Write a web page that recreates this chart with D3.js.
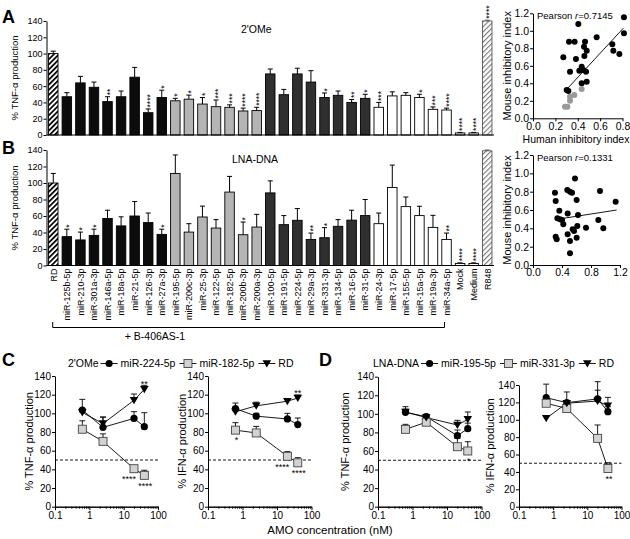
<!DOCTYPE html>
<html><head><meta charset="utf-8">
<script src="https://cdn.jsdelivr.net/npm/d3@7"></script>
<style>body{margin:0;background:#fff}</style>
</head><body>
<svg id="c" width="630" height="539" xmlns="http://www.w3.org/2000/svg"></svg>
<script>
// ---------------- DATA ----------------
const categories = ["RD","miR-125b-5p","miR-210-3p","miR-301a-3p","miR-146a-5p","miR-18a-5p","miR-21-5p","miR-126-3p","miR-27a-3p",
  "miR-195-5p","miR-200c-3p","miR-25-3p","miR-122-5p","miR-182-5p","miR-200b-3p","miR-200a-3p",
  "miR-100-5p","miR-191-5p","miR-224-5p","miR-29a-3p","miR-331-3p","miR-134-5p","miR-16-5p","miR-31-5p",
  "miR-24-3p","miR-17-5p","miR-155-5p","miR-15a-5p","miR-19a-3p","miR-34a-5p","Mock","Medium","R848"];
const groups = ["rd","g1","g1","g1","g1","g1","g1","g1","g1","g2","g2","g2","g2","g2","g2","g2",
  "g3","g3","g3","g3","g3","g3","g3","g3","g4","g4","g4","g4","g4","g4","ctrl","ctrl","r848"];
const barTicks = [0,20,40,60,80,100,120,140];

const omeValues = [100,47,64,58.6,41,47,71,27.4,46, 42,44,38,34.8,34,29.5,30, 75,49.5,75,65,46,48.7,40,45, 34,48,48.7,46,31.5,30.7, 2.5,2.5,140];
const omeErrTop = [103,52,72,65,47,54,83,32,55, 45,49,46,43,37,33,34, 81,56,82,79,51.6,54,43.6,50, 40,53,52,50,34.5,33, 3.2,3.2,141];
const omeSig = ["","","","","**","","","****","*", "*","*","*","***","***","****","****", "","","","","*","","**","*", "***","","","*","***","****", "****","****","****"];

const lnaValues = [100,35,31,36.5,57,48,60,52,37.7, 111.6,40.5,58.8,45.4,89,37.3,46.6, 88,49.5,54.8,31.6,33.7,47.5,55,60.5, 50.7,94.5,71.4,60.5,46.2,31.6, 2.5,2.5,139];
const lnaErrTop = [111.6,44,40.5,44,67,59,77.5,63.6,44, 134,50.7,72,55.6,108,52.7,62, 102.6,60.5,69,39.3,45.9,55.6,67,80, 63.6,121.7,83,71.8,60.8,39.3, 3.2,3.2,140];
const lnaSig = ["","*","*","*","","","","","*", "","","","","","*","", "","","","**","*","","","", "","","","","","**", "****","****",""];

// scatter (human index, mouse index)
const scatterA_black = [[0.813,1.154],[0.813,0.971],[0.405,1.078],[0.569,0.926],[0.322,0.875],[0.372,0.875],[0.465,0.875],
  [0.456,0.818],[0.48,0.773],[0.709,0.846],[0.718,0.773],[0.772,0.735],[0.271,0.697],[0.384,0.678],[0.459,0.712],
  [0.435,0.59],[0.414,0.544],[0.45,0.552],[0.474,0.533],[0.331,0.533],[0.435,0.40],[0.48,0.419],[0.301,0.323],[0.316,0.312]];
const scatterA_gray = [[0.286,0.133],[0.307,0.133],[0.331,0.201],[0.331,0.247],[0.369,0.266],[0.435,0.335]];
const scatterA_fit = [[0.295,0.322],[0.807,1.029]];
const scatterA_r = "0.7145";
const scatterB = [[0.303,0.789],[0.313,0.698],[0.473,0.818],[0.51,0.80],[0.538,0.789],[0.579,0.945],[0.602,0.709],
  [0.924,0.807],[1.14,0.69],[0.363,0.592],[0.478,0.563],[0.621,0.545],[0.336,0.509],[0.372,0.498],[0.40,0.491],
  [0.418,0.444],[0.611,0.425],[0.731,0.407],[0.97,0.40],[0.901,0.491],[0.547,0.389],[0.566,0.371],[0.313,0.309],
  [0.327,0.28],[0.478,0.335],[0.602,0.298],[0.51,0.262],[0.51,0.128]];
const scatterB_fit = [[0.327,0.498],[1.154,0.60]];
const scatterB_r = "0.1331";
const scatterTicksY = [0,0.2,0.4,0.6,0.8,1.0,1.2];
const scatterTicksXA = [0,0.2,0.4,0.6,0.8];
const scatterTicksXB = [0,0.4,0.8,1.2];

// dose response
const conc = [0.625, 2.5, 20, 40];
const doseTicks = [0,20,40,60,80,100,120,140];
const cTNF_224 = [103.6,85,94.6,85.7], cTNF_224e = [115,96,101.8,100.7];
const cTNF_182 = [83,70,40.7,33.6],   cTNF_182e = [92,78,44,39];
const cTNF_RD  = [101,89,114,125.7],  cTNF_RDe  = [104,96,120.7,130];
const cIFN_224 = [105,97,94,88],      cIFN_224e = [111,100,100,95];
const cIFN_182 = [82,79,54,47],       cIFN_182e = [90,86,59,52.5];
const cIFN_RD  = [101.7,108,113,116.4], cIFN_RDe = [104,112,115,119.6];
const dTNF_195 = [101.6,97,76.5,84],  dTNF_195e = [107.7,99,82.6,90];
const dTNF_331 = [83.3,91,64.6,60],   dTNF_331e = [88.7,97,73.6,70];
const dTNF_RD  = [102,96,88,94],      dTNF_RDe  = [105,99.4,93,102];
const dIFN_195 = [125.4,119.7,124,109.3], dIFN_195e = [141,132,143.8,115];
const dIFN_331 = [119,113,78.6,44],   dIFN_331e = [122,116,94,50.6];
const dIFN_RD  = [101.7,119,121.6,116], dIFN_RDe = [104,122,134,125.8];
// significance: [series index (0 circle,1 square,2 triangle), conc index, label, placement]
const sigC_TNF = [[2,3,"**","above"],[1,2,"****","belowLeft"],[1,3,"****","below"]];
const sigC_IFN = [[1,0,"*","below"],[2,3,"**","above"],[1,2,"****","belowLeft"],[1,3,"****","below"]];
const sigD_TNF = [[1,3,"*","below"]];
const sigD_IFN = [[1,3,"**","below"]];

// ---------------- DRAW ----------------
const FONT = "'Liberation Sans', Arial, Helvetica, sans-serif";
const svg = d3.select("#c");
const defs = svg.append("defs");
function hatch(id, color, w, sw) {
  const p = defs.append("pattern").attr("id", id).attr("patternUnits","userSpaceOnUse")
    .attr("width", w).attr("height", w).attr("patternTransform","rotate(45)");
  p.append("rect").attr("width", w).attr("height", w).attr("fill","#fff");
  p.append("rect").attr("width", sw).attr("height", w).attr("fill", color);
}
hatch("hRD", "#000", 3.6, 1.7);
hatch("hR848", "#777", 3.6, 1.1);

function styleAxis(g, fs) {
  g.attr("font-family", FONT).attr("font-size", fs);
  g.selectAll("path,line").attr("stroke","#000").attr("stroke-width",1);
  g.selectAll("text").attr("fill","#000");
}
function txt(x, y, s, fs, opts = {}) {
  const t = svg.append("text").attr("x", x).attr("y", y).attr("font-family", FONT)
    .attr("font-size", fs).attr("fill","#000").text(s);
  if (opts.anchor) t.attr("text-anchor", opts.anchor);
  if (opts.weight) t.attr("font-weight", opts.weight);
  if (opts.rot) t.attr("transform", `rotate(${opts.rot},${x},${y})`);
  return t;
}

const fillFor = {rd:"url(#hRD)", g1:"#0c0c0c", g2:"#b4b4b4", g3:"#2f2f2f", g4:"#fff", ctrl:"#fff", r848:"url(#hR848)"};
const xBand = d3.scaleBand().domain(categories).range([46.5, 494]).paddingInner(0.3).paddingOuter(0.15);

function barPanel(values, errs, sigs, y0, y140) {
  const y = d3.scaleLinear().domain([0,140]).range([y0, y140]);
  const g = svg.append("g");
  const bw = xBand.bandwidth();
  categories.forEach((c, i) => {
    const x = xBand(c), cx = x + bw/2;
    const sc = groups[i]==="r848" ? "#555":"#000";
    g.append("line").attr("x1",cx).attr("x2",cx).attr("y1",y(values[i])).attr("y2",y(errs[i]))
      .attr("stroke", sc).attr("stroke-width",1);
    g.append("line").attr("x1",cx-2.5).attr("x2",cx+2.5).attr("y1",y(errs[i])).attr("y2",y(errs[i]))
      .attr("stroke", sc).attr("stroke-width",1);
    g.append("rect").attr("x", x).attr("y", y(values[i])).attr("width", bw)
      .attr("height", y(0) - y(values[i])).attr("fill", fillFor[groups[i]])
      .attr("stroke", sc).attr("stroke-width", 0.9);
    if (sigs[i]) {
      const fs = 8.5, tx = cx + 0.6*fs, ty = y(errs[i]) - 1.5;
      g.append("text").attr("x", tx).attr("y", ty).attr("font-family", FONT).attr("font-size", fs)
        .attr("transform", `rotate(-90,${tx},${ty})`).attr("fill","#000").text(sigs[i]);
    }
  });
  const ay = svg.append("g").attr("transform","translate(46.5,0)")
    .call(d3.axisLeft(y).tickValues(barTicks).tickSize(3).tickSizeOuter(0).tickPadding(1));
  styleAxis(ay, 9);
  svg.append("line").attr("x1",46.5).attr("x2",494).attr("y1",y(0)).attr("y2",y(0)).attr("stroke","#000");
  return y;
}

// Panel A
barPanel(omeValues, omeErrTop, omeSig, 135, 21);
txt(2, 23, "A", 18, {weight:"bold"});
txt(18, 78, "% TNF-α production", 9.5, {anchor:"middle", rot:-90});
txt(241, 33, "2'OMe", 10.5);
// Panel B
barPanel(lnaValues, lnaErrTop, lnaSig, 265.5, 150);
txt(2, 154, "B", 18, {weight:"bold"});
txt(18, 208, "% TNF-α production", 9.5, {anchor:"middle", rot:-90});
txt(232, 163, "LNA-DNA", 10.5);
// category labels
categories.forEach(c => {
  const cx = xBand(c) + xBand.bandwidth()/2 + 3.3, yy = 268.5;
  txt(cx, yy, c, 9, {anchor:"end", rot:-90});
});
// bracket
svg.append("path").attr("d","M52.7,322 V327.5 H444.5 V322").attr("fill","none").attr("stroke","#000").attr("stroke-width",1);
txt(155, 340, "+ B-406AS-1", 10.5, {anchor:"middle"});

// Scatter panels
function scatterPanel(blacks, grays, fit, r, xDom, xR, yR, xTicks, xTitle) {
  const x = d3.scaleLinear().domain(xDom).range(xR);
  const y = d3.scaleLinear().domain([0,1.2]).range(yR);
  const ax = svg.append("g").attr("transform",`translate(0,${yR[0]})`)
    .call(d3.axisBottom(x).tickValues(xTicks).tickFormat(d3.format(".1f")).tickSize(3).tickSizeOuter(0).tickPadding(1));
  styleAxis(ax, 10.5);
  const ayy = svg.append("g").attr("transform",`translate(${xR[0]},0)`)
    .call(d3.axisLeft(y).tickValues(scatterTicksY).tickFormat(d3.format(".1f")).tickSize(3).tickSizeOuter(0).tickPadding(1));
  styleAxis(ayy, 10.5);
  svg.append("line").attr("x1",x(fit[0][0])).attr("y1",y(fit[0][1])).attr("x2",x(fit[1][0])).attr("y2",y(fit[1][1]))
    .attr("stroke","#000").attr("stroke-width",0.9);
  svg.append("g").selectAll("circle").data(blacks).join("circle")
    .attr("cx",d=>x(d[0])).attr("cy",d=>y(d[1])).attr("r",3).attr("fill","#000");
  svg.append("g").selectAll("circle").data(grays).join("circle")
    .attr("cx",d=>x(d[0])).attr("cy",d=>y(d[1])).attr("r",3).attr("fill","#999");
  const t = svg.append("text").attr("x", xR[0]+4).attr("y", yR[1]+6).attr("font-family",FONT).attr("font-size",9.5).attr("fill","#000");
  t.append("tspan").text("Pearson ");
  t.append("tspan").attr("font-style","italic").text("r");
  t.append("tspan").text("=" + r);
  txt(511, (yR[0]+yR[1])/2, "Mouse inhibitory index", 11, {anchor:"middle", rot:-90});
  if (xTitle) txt(576, yR[0]+25, xTitle, 10.5, {anchor:"middle"});
}
scatterPanel(scatterA_black, scatterA_gray, scatterA_fit, scatterA_r, [0,0.8], [533,622.5], [118.3,13.3], scatterTicksXA, "Human inhibitory index");
scatterPanel(scatterB, [], scatterB_fit, scatterB_r, [0,1.2], [533,620], [265,155], scatterTicksXB, null);

// Dose response panels
function marker(g, type, x, y) {
  if (type === 0) g.append("circle").attr("cx",x).attr("cy",y).attr("r",3.6).attr("fill","#000");
  else if (type === 1) g.append("rect").attr("x",x-4).attr("y",y-4).attr("width",8).attr("height",8)
      .attr("fill","#d2d2d2").attr("stroke","#444").attr("stroke-width",0.9);
  else g.append("path").attr("d",`M${x-4.3},${y-3.3} L${x+4.3},${y-3.3} L${x},${y+4} Z`).attr("fill","#000");
}
function dosePanel(xR, y0, y140, series, sigs, ylabel, ylabelX) {
  const x = d3.scaleLog().domain([0.1,100]).range(xR);
  const y = d3.scaleLinear().domain([0,140]).range([y0,y140]);
  const minor = [];
  [0.1,1,10].forEach(b => { for (let k=2;k<=9;k++) minor.push(b*k); });
  const am = svg.append("g").attr("transform",`translate(0,${y0})`)
    .call(d3.axisBottom(x).tickValues(minor).tickFormat("").tickSize(2).tickSizeOuter(0));
  styleAxis(am, 10);
  const ax = svg.append("g").attr("transform",`translate(0,${y0})`)
    .call(d3.axisBottom(x).tickValues([0.1,1,10,100]).tickFormat(d => d < 1 ? "0.1" : String(d)).tickSize(3.5).tickSizeOuter(0).tickPadding(2));
  styleAxis(ax, 10);
  const ayy = svg.append("g").attr("transform",`translate(${xR[0]},0)`)
    .call(d3.axisLeft(y).tickValues(doseTicks).tickSize(3).tickSizeOuter(0).tickPadding(1));
  styleAxis(ayy, 10);
  svg.append("line").attr("x1",xR[0]).attr("x2",xR[1]).attr("y1",y(50)).attr("y2",y(50))
    .attr("stroke","#000").attr("stroke-width",0.9).attr("stroke-dasharray","3,2");
  const g = svg.append("g");
  series.forEach(([vals, errs]) => {
    g.append("path").attr("d", d3.line()(conc.map((c,i)=>[x(c), y(vals[i])]))).attr("fill","none").attr("stroke","#000").attr("stroke-width",0.9);
    conc.forEach((c,i) => {
      const cx = x(c);
      g.append("line").attr("x1",cx).attr("x2",cx).attr("y1",y(vals[i])).attr("y2",y(errs[i])).attr("stroke","#000").attr("stroke-width",0.9);
      g.append("line").attr("x1",cx-3).attr("x2",cx+3).attr("y1",y(errs[i])).attr("y2",y(errs[i])).attr("stroke","#000").attr("stroke-width",0.9);
    });
  });
  series.forEach(([vals], si) => conc.forEach((c,i) => marker(g, si, x(c), y(vals[i]))));
  sigs.forEach(([si, ci, lab, pos]) => {
    const cx = x(conc[ci]), fs = 9;
    const [vals, errs] = series[si];
    if (pos === "above") txt(cx, y(errs[ci]) - 4 + 0.59*fs, lab, fs, {anchor:"middle"});
    else if (pos === "below") txt(cx+1, y(vals[ci]) + 8 + 0.59*fs, lab, fs, {anchor:"middle"});
    else txt(cx+2, y(vals[ci]) + 8 + 0.59*fs, lab, fs, {anchor:"end"});
  });
  txt(ylabelX, (y0+y140)/2, ylabel, 11, {anchor:"middle", rot:-90});
}
dosePanel([55,158], 506.7, 376, [[cTNF_224,cTNF_224e],[cTNF_182,cTNF_182e],[cTNF_RD,cTNF_RDe]], sigC_TNF, "% TNF-α production", 33);
dosePanel([208,311.5], 506.7, 376, [[cIFN_224,cIFN_224e],[cIFN_182,cIFN_182e],[cIFN_RD,cIFN_RDe]], sigC_IFN, "% IFN-α production", 186);
dosePanel([378,481.5], 506.7, 376.7, [[dTNF_195,dTNF_195e],[dTNF_331,dTNF_331e],[dTNF_RD,dTNF_RDe]], sigD_TNF, "% TNF-α production", 349);
dosePanel([519,621.5], 506.7, 385, [[dIFN_195,dIFN_195e],[dIFN_331,dIFN_331e],[dIFN_RD,dIFN_RDe]], sigD_IFN, "% IFN-α production", 494);

txt(2, 366, "C", 18, {weight:"bold"});
txt(319, 366, "D", 18, {weight:"bold"});
txt(330, 534, "AMO concentration (nM)", 11.5, {anchor:"middle"});

// legends
function legend(x, y, title, names) {
  let cx = x;
  const t = txt(cx, y, title, 10.5);
  cx += t.node().getComputedTextLength() + 2;
  names.forEach((n, i) => {
    const g = svg.append("g");
    g.append("line").attr("x1",cx).attr("x2",cx+17).attr("y1",y-3.5).attr("y2",y-3.5).attr("stroke","#000").attr("stroke-width",0.9);
    marker(g, i, cx+8.5, y-3.5);
    cx += 20;
    const tt = txt(cx, y, n, 10.5);
    cx += tt.node().getComputedTextLength() + 4;
  });
}
legend(68, 367, "2'OMe", ["miR-224-5p","miR-182-5p","RD"]);
legend(373, 367, "LNA-DNA", ["miR-195-5p","miR-331-3p","RD"]);
</script>
</body></html>
